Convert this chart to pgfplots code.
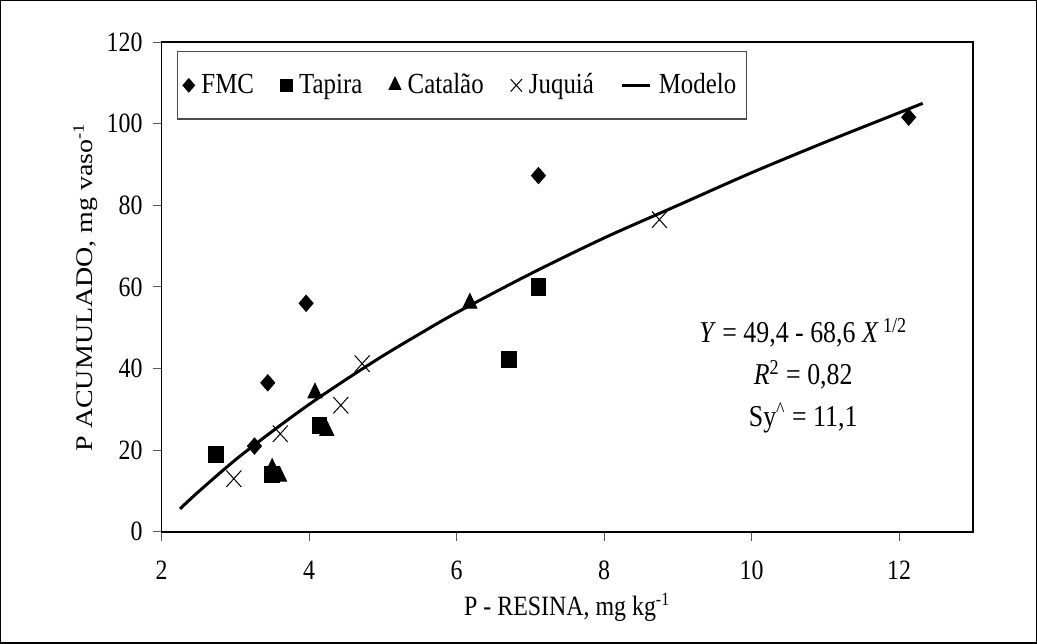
\documentclass[border=0pt]{standalone}
\usepackage{pgfplots}
\pgfplotsset{compat=1.18}
\usepackage{fontspec}
\setmainfont{Liberation Serif}
\pgfplotsset{
  marklegend/.style={legend image code/.code={\draw[##1] plot coordinates {(0bp,0bp)};}},
  modellegend/.style={legend image code/.code={\draw[##1] (0bp,0bp) -- (14bp,0bp);}},
}
\newcommand{\st}[1]{\scalebox{1}[1.17]{#1}}

\begin{document}
\begin{tikzpicture}
\begin{axis}[
  scale only axis,
  width=406bp, height=245bp,
  xmin=2, xmax=13, ymin=0, ymax=120,
  xtick={2,4,...,12}, ytick={0,20,...,120},
  tick align=outside, xtick pos=lower, ytick pos=left,
  major tick length=4.5bp,
  tick style={gray!70!black, line width=0.5bp},
  axis line style={line width=0.8bp},
  ticklabel style={font=\fontsize{12}{14}\selectfont, yscale=1.17},
  /pgf/number format/assume math mode=true,
  xticklabel style={yshift=-5bp},
  yticklabel style={xshift=-1.5bp},
  label style={font=\fontsize{12}{14}\selectfont},
  xlabel={P - RESINA, mg kg\textsuperscript{-1}},
  ylabel={P ACUMULADO, mg vaso\textsuperscript{-1}},
  xlabel style={at={(rel axis cs:0.5,-0.155)}, anchor=center, yscale=1.17},
  ylabel style={at={(rel axis cs:-0.0936,0.5)}, anchor=center, xscale=1.17},
  clip=false,
  legend columns=5,
  legend cell align=left,
  legend style={at={(rel axis cs:0.0185,0.9816)}, anchor=north west,
    draw=gray!60!black, line width=0.6bp, inner xsep=3bp, inner ysep=9bp,
    font=\fontsize{12.5}{14}\selectfont, column sep=1.5bp,
    /tikz/every even column/.append style={column sep=11.5bp}},
]
% FMC
\addplot[only marks, mark=square*, mark options={yscale=1.15, rotate=45}, mark size=2.5bp, forget plot]
  coordinates {(3.26,21) (3.44,36.5) (3.96,56) (7.11,87.3) (12.13,101.6)};
% Tapira
\addplot[only marks, mark=square*, mark options={yscale=1.1}, mark size=3.7bp, forget plot]
  coordinates {(2.74,19) (3.5,14) (4.14,26) (6.71,42.2) (7.11,60)};
% Catalao
\addplot[only marks, mark=triangle*, mark options={yscale=1.2}, mark size=4.1bp, forget plot]
  coordinates {(3.5,15.5) (3.6,13.6) (4.08,34) (4.24,24.8) (6.18,56)};
% Juquia
\addplot[only marks, mark=x, mark options={yscale=1.1}, mark size=5.3bp, line width=0.5bp, forget plot]
  coordinates {(2.98,13) (3.61,24) (4.43,31) (4.72,41.2) (8.75,76.5)};
% Modelo
\addplot[black, line width=1.5bp, smooth, no marks, forget plot]
  coordinates {(2.25,5.6) (2.5,9.8) (3,17.6) (3.5,24.6) (4,31.2) (4.5,37.3)
    (5,43.1) (5.5,48.5) (6,53.7) (7,63.2) (8,72.0) (9,80.0) (10,88.0)
    (11,95.5) (12,102.7) (12.32,105)};

\addlegendimage{only marks, mark=square*, mark options={yscale=1.15, rotate=45}, mark size=2bp, marklegend}
\addlegendentry{\st{FMC}}
\addlegendimage{only marks, mark=square*, mark options={yscale=1.1}, mark size=2.8bp, marklegend}
\addlegendentry{\st{Tapira}}
\addlegendimage{only marks, mark=triangle*, mark options={yscale=1.2}, mark size=3.3bp, marklegend}
\addlegendentry{\st{Catalão}}
\addlegendimage{only marks, mark=x, mark options={yscale=1.1}, mark size=4bp, line width=0.5bp, marklegend}
\addlegendentry{\st{Juquiá}}
\addlegendimage{black, line width=1.5bp, modellegend}
\addlegendentry{\st{Modelo}}

\node[align=center, font=\fontsize{13}{18}\selectfont, yscale=1.17] at (axis cs:10.7,38.3)
  {\textit{Y} = 49,4 - 68,6 \textit{X}\,\textsuperscript{1/2}\\
   \textit{R}\textsuperscript{2} = 0,82\\
   Sy\textsuperscript{\^{}} = 11,1};

\draw[line width=0.7bp] (rel axis cs:-0.19828,-0.22755) rectangle (rel axis cs:1.0782,1.08469);
\end{axis}
\end{tikzpicture}
\end{document}
